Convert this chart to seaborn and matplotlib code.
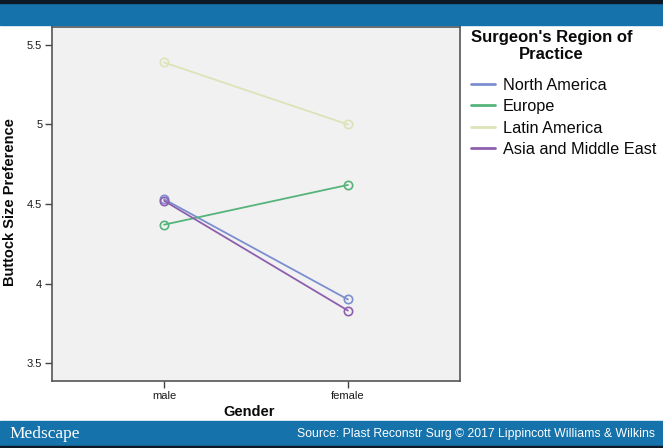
import matplotlib
matplotlib.use("Agg")
import matplotlib.pyplot as plt
import seaborn as sns
import pandas as pd
from matplotlib.patches import Rectangle
from matplotlib.lines import Line2D

genders = ["male", "female"]
regions = ["North America", "Europe", "Latin America", "Asia and Middle East"]
north_america = [4.53, 3.90]
europe = [4.37, 4.62]
latin_america = [5.39, 5.00]
asia_middle_east = [4.52, 3.83]
yticks = [3.5, 4, 4.5, 5, 5.5]
colors = ["#7b8ed0", "#55b47a", "#dde3b6", "#8e5fae"]

rows = []
for reg, vals in zip(regions, [north_america, europe, latin_america, asia_middle_east]):
    for g, v in zip(genders, vals):
        rows.append({"Gender": g, "Region": reg, "Value": v})
df = pd.DataFrame(rows)

sns.set_theme(style="white")
plt.rcParams["font.family"] = ["Liberation Sans", "DejaVu Sans"]

W, H = 663, 448
fig = plt.figure(figsize=(W / 100, H / 100), dpi=100)
fig.patch.set_facecolor("white")

ax = fig.add_axes([52 / W, 1 - 381 / H, (460 - 52) / W, (381 - 27) / H])
ax.set_facecolor("#f1f1f1")

sns.lineplot(data=df, x="Gender", y="Value", hue="Region", hue_order=regions,
             palette=colors, marker="o", markersize=6, mfc="none", mew=1.2,
             linewidth=1.3, ax=ax, legend=False, sort=False)
for ln in ax.lines:
    ln.set_markeredgecolor(ln.get_color())
    ln.set_markerfacecolor("none")

ax.set_xlim(-0.61, 1.61)
ax.set_ylim(3.387, 5.613)
ax.set_yticks(yticks)
ax.set_yticklabels(["3.5", "4", "4.5", "5", "5.5"])
ax.tick_params(axis="both", direction="out", length=5, width=1, color="#444444",
               labelsize=8, labelcolor="#1a1a1a", pad=2, left=True, bottom=True)
for s in ax.spines.values():
    s.set_color("#555555")
    s.set_linewidth(1.2)
ax.set_xlabel("Gender", fontsize=10.5, fontweight="bold", color="#0a0a0a")
ax.set_ylabel("Buttock Size Preference", fontsize=10.5, fontweight="bold", color="#0a0a0a")
ax.xaxis.set_label_coords((249.5 - 52) / 408, (381 - 412) / 354)
ax.yaxis.set_label_coords((10 - 52) / 408, (381 - 202) / 354)
ax.xaxis.label.set_va("center")
ax.yaxis.label.set_va("center")

handles = [Line2D([0], [0], color=c, lw=2) for c in colors]
leg = fig.legend(handles, regions, loc="upper left",
                 bbox_to_anchor=(471 / W, 1 - 30 / H), frameon=False,
                 fontsize=11.7, handlelength=1.5, handletextpad=0.45,
                 labelspacing=0.4, borderaxespad=0, borderpad=0,
                 alignment="left", labelcolor="#0a0a0a",
                 title="Surgeon's Region of\nPractice",
                 title_fontproperties={"weight": "bold", "size": 12})
leg.get_title().set_multialignment("center")
leg.get_title().set_color("#0a0a0a")
leg._legend_box.sep = 11

# banners
blue = "#1572aa"
fig.patches.append(Rectangle((0, 1 - 25 / H), 1, 25 / H, transform=fig.transFigure,
                             color=blue, zorder=0))
fig.patches.append(Rectangle((0, 1 - 3 / H), 1, 3 / H, transform=fig.transFigure,
                             color="#0d1a26", zorder=1))
fig.patches.append(Rectangle((0, 2 / H), 1, (448 - 421 - 2) / H, transform=fig.transFigure,
                             color=blue, zorder=0))
fig.patches.append(Rectangle((0, 0), 1, 2 / H, transform=fig.transFigure,
                             color="#0d1a26", zorder=1))
fig.text(9 / W, 1 - 434 / H, "Medscape", color="white", fontsize=12.5,
         family="Liberation Serif", va="center", ha="left")
fig.text(655 / W, 1 - 434 / H,
         "Source: Plast Reconstr Surg \u00a9 2017 Lippincott Williams & Wilkins",
         color="white", fontsize=8.8, va="center", ha="right")

fig.savefig("out.png", dpi=100)
